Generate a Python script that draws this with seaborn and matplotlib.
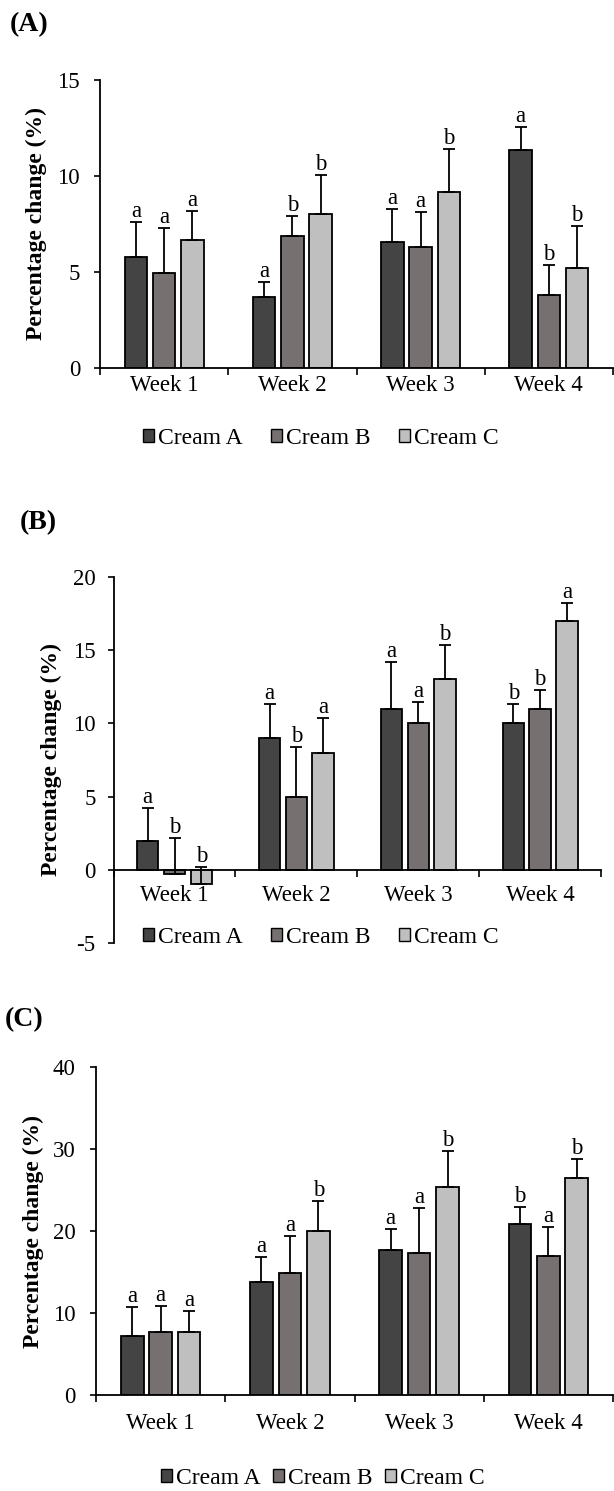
import numpy as np
import pandas as pd
import matplotlib
matplotlib.use("Agg")
import matplotlib.pyplot as plt
import seaborn as sns

weeks = ["Week 1", "Week 2", "Week 3", "Week 4"]
creams = ["Cream A", "Cream B", "Cream C"]
colors = ["#444444", "#767170", "#bfbfbf"]

# Panel A
a_mean_A = [5.76, 3.72, 6.58, 11.37]
a_mean_B = [4.95, 6.89, 6.28, 3.82]
a_mean_C = [6.68, 8.00, 9.18, 5.19]
a_err_A = [1.84, 0.76, 1.68, 1.16]
a_err_B = [2.32, 1.01, 1.84, 1.56]
a_err_C = [1.48, 2.03, 2.21, 2.22]
a_let_A = ["a", "a", "a", "a"]
a_let_B = ["a", "b", "a", "b"]
a_let_C = ["a", "b", "b", "b"]

# Panel B
b_mean_A = [2.0, 9.0, 11.0, 10.0]
b_mean_B = [-0.3, 5.0, 10.0, 11.0]
b_mean_C = [-1.0, 8.0, 13.0, 17.0]
b_err_A = [2.25, 2.30, 3.18, 1.30]
b_err_B = [2.50, 3.40, 1.48, 1.27]
b_err_C = [1.18, 2.40, 2.34, 1.25]
b_let_A = ["a", "a", "a", "b"]
b_let_B = ["b", "b", "a", "b"]
b_let_C = ["b", "a", "b", "a"]

# Panel C
c_mean_A = [7.23, 13.78, 17.68, 20.85]
c_mean_B = [7.64, 14.84, 17.28, 16.95]
c_mean_C = [7.72, 20.04, 25.33, 26.42]
c_err_A = [3.54, 3.05, 2.60, 2.08]
c_err_B = [3.21, 4.59, 5.48, 3.50]
c_err_C = [2.58, 3.62, 4.43, 2.32]
c_let_A = ["a", "a", "a", "b"]
c_let_B = ["a", "a", "a", "a"]
c_let_C = ["a", "b", "b", "b"]

sns.set_style("ticks")
plt.rcParams['font.family'] = ['Liberation Serif', 'DejaVu Serif']
plt.rcParams.update({
    'axes.edgecolor': 'black', 'xtick.color': 'black', 'ytick.color': 'black',
    'text.color': 'black', 'axes.labelcolor': 'black',
    'axes.unicode_minus': False,
})

W, H = 614, 1491
fig = plt.figure(figsize=(W / 100, H / 100), dpi=100)

TICK_FS = 16.5


def panel(rect, means, errs, letters, ylim, yticks, tag, tag_xy,
          xlab_pad, ytick_pad, ylabel_x, legend_xy, colspacing, zero_axis=False):
    ax = fig.add_axes(rect)
    rows = []
    for ci, cr in enumerate(creams):
        for wi, wk in enumerate(weeks):
            rows.append({"week": wk, "cream": cr, "value": means[ci][wi]})
    df = pd.DataFrame(rows)
    sns.barplot(data=df, x="week", y="value", hue="cream", order=weeks,
                hue_order=creams, palette=colors, saturation=1, width=0.66,
                gap=0.2, edgecolor="black", linewidth=1.3, errorbar=None, ax=ax)
    bar_conts = list(ax.containers)
    for ci, cont in enumerate(bar_conts):
        xs = [b.get_x() + b.get_width() / 2 for b in cont]
        ys = np.array(means[ci])
        es = np.array(errs[ci])
        ax.errorbar(xs, ys, yerr=[np.zeros(len(es)), es], fmt='none',
                    ecolor='black', elinewidth=1.3, capsize=4, capthick=1.3,
                    zorder=5)
        for x, y, e, t in zip(xs, ys, es, letters[ci]):
            ax.annotate(t, (x, y + e), xytext=(0, 5), textcoords='offset pixels',
                        ha='center', va='baseline', fontsize=16.5)
    ax.set_xlim(-0.5, 3.5)
    ax.set_ylim(*ylim)
    ax.set_yticks(yticks)
    ax.set_xticks([-0.5, 0.5, 1.5, 2.5, 3.5])
    ax.set_xticklabels([])
    ax.set_xticks([0, 1, 2, 3], minor=True)
    ax.set_xticklabels(weeks, minor=True)
    ax.tick_params(axis='x', which='major', length=5, width=1.2,
                   direction='out', bottom=True)
    ax.tick_params(axis='x', which='minor', length=0, pad=xlab_pad,
                   labelsize=TICK_FS, bottom=True)
    ax.tick_params(axis='y', length=4.5, width=1.2, direction='out',
                   left=True, pad=ytick_pad, labelsize=TICK_FS)
    sns.despine(ax=ax)
    for s in ['left', 'bottom']:
        ax.spines[s].set_linewidth(1.3)
    if zero_axis:
        ax.spines['bottom'].set_position(('data', 0))
    ax.set_xlabel('')
    ax.set_ylabel('Percentage change (%)', fontsize=17, fontweight='bold',
                  va='center')
    ax.yaxis.set_label_coords(ylabel_x, 0.5)
    sns.move_legend(ax, loc="center", bbox_to_anchor=legend_xy,
                    bbox_transform=fig.transFigure, ncol=3, frameon=False,
                    title=None, fontsize=17, handlelength=0.47,
                    handleheight=0.47, handletextpad=0.17,
                    columnspacing=colspacing, borderpad=0)
    leg = ax.get_legend()
    for h in leg.legend_handles:
        h.set_edgecolor('black')
        h.set_linewidth(1.0)
    fig.text(tag_xy[0], tag_xy[1], tag, fontsize=20, fontweight='bold',
             ha='left', va='center')
    return ax


panel([100 / W, 1 - 368 / H, 513 / W, 288 / H],
      [a_mean_A, a_mean_B, a_mean_C], [a_err_A, a_err_B, a_err_C],
      [a_let_A, a_let_B, a_let_C], (0, 15), [0, 5, 10, 15],
      "(A)", (10 / W, 1 - 25 / H), 4.8, 9.9, (36 - 100) / 513,
      (321 / W, 1 - 438 / H), 1.19)

panel([113.6 / W, 1 - 943 / H, (601 - 113.6) / W, 366 / H],
      [b_mean_A, b_mean_B, b_mean_C], [b_err_A, b_err_B, b_err_C],
      [b_let_A, b_let_B, b_let_C], (-5, 20), [-5, 0, 5, 10, 15, 20],
      "(B)", (20 / W, 1 - 523 / H), 11.2, 8.5, (51 - 113.6) / 487.4,
      (321 / W, 1 - 937 / H), 1.19, zero_axis=True)

panel([96 / W, 1 - 1395 / H, 517 / W, 328 / H],
      [c_mean_A, c_mean_B, c_mean_C], [c_err_A, c_err_B, c_err_C],
      [c_let_A, c_let_B, c_let_C], (0, 40), [0, 10, 20, 30, 40],
      "(C)", (5 / W, 1 - 1020 / H), 12.7, 10, (33 - 96) / 517,
      (323 / W, 1 - 1478 / H), 0.53)

fig.savefig("out.png", dpi=100)
